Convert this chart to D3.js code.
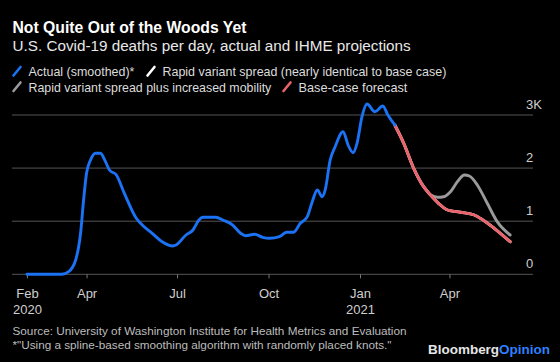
<!DOCTYPE html>
<html>
<head>
<meta charset="utf-8">
<script src="https://cdn.jsdelivr.net/npm/d3@7"></script>
<style>
  html, body { margin: 0; padding: 0; background: #000; }
  svg { display: block; }
  text { font-family: "Liberation Sans", Arial, Helvetica, sans-serif; }
</style>
</head>
<body>
<svg id="chart" width="560" height="362"></svg>
<script>
// ---------------- DATA ----------------
const actualDates = ["2020-02-01","2020-03-07","2020-03-14","2020-03-21","2020-03-26","2020-03-29","2020-04-01","2020-04-05","2020-04-10","2020-04-15","2020-04-20","2020-04-24","2020-05-01","2020-05-09","2020-05-21","2020-05-27","2020-06-06","2020-06-16","2020-06-27","2020-06-30","2020-07-10","2020-07-17","2020-07-23","2020-07-27","2020-08-09","2020-08-16","2020-08-26","2020-09-03","2020-09-08","2020-09-17","2020-09-25","2020-10-02","2020-10-12","2020-10-19","2020-10-26","2020-11-02","2020-11-09","2020-11-14","2020-11-19","2020-11-24","2020-11-27","2020-12-02","2020-12-07","2020-12-15","2020-12-20","2020-12-25","2020-12-29","2021-01-03","2021-01-08","2021-01-16","2021-01-24","2021-01-29","2021-02-05"];
const actualValues = [0,0,49,269,778,1399,1908,2153,2279,2279,2121,1964,1870,1525,1055,928,772,614,533,552,740,834,1023,1073,1073,1023,928,772,727,753,697,678,708,791,791,960,1085,1367,1588,1461,1588,2153,2403,2686,2435,2290,2467,2968,3207,3062,3169,3000,2812];

const baseDates = ["2021-02-05","2021-02-14","2021-02-24","2021-03-06","2021-03-13","2021-03-21","2021-03-30","2021-04-12","2021-04-26","2021-05-02","2021-05-16","2021-06-01"];
const baseValues = [2812,2467,1996,1650,1493,1337,1211,1168,1117,1055,866,614];

const rapidDates = ["2021-02-05","2021-02-14","2021-02-24","2021-03-06","2021-03-13","2021-03-21","2021-03-30","2021-04-12","2021-04-26","2021-05-02","2021-05-16","2021-06-01"];
const rapidValues = [2812,2467,1996,1650,1493,1337,1211,1168,1117,1055,866,614];

const mobilityDates = ["2021-03-13","2021-03-20","2021-03-26","2021-04-02","2021-04-09","2021-04-16","2021-04-21","2021-04-29","2021-05-09","2021-05-19","2021-06-01"];
const mobilityValues = [1493,1450,1461,1556,1744,1870,1851,1682,1337,991,740];

const yTicks = [0, 1000, 2000, 3000];
const yTickLabels = ["0", "1", "2", "3K"];
const xTickDates = ["2020-02-01","2020-04-01","2020-07-01","2020-10-01","2021-01-01","2021-04-01"];
const xTickLabels = ["Feb","Apr","Jul","Oct","Jan","Apr"];
const xTickYears = ["2020","","","","2021",""];

const legendLabels = ["Actual (smoothed)*", "Rapid variant spread (nearly identical to base case)", "Rapid variant spread plus increased mobility", "Base-case forecast"];

// ---------------- STYLE ----------------
const C = { blue: "#1b72f5", white: "#ffffff", gray: "#9a9a9a", red: "#ea636b", grid: "#555555" };

const parse = d3.timeParse("%Y-%m-%d");
const zip = (ds, vs) => ds.map((d, i) => ({ date: parse(d), value: vs[i] }));
const actual = zip(actualDates, actualValues);
const base = zip(baseDates, baseValues);
const rapid = zip(rapidDates, rapidValues);
const mobility = zip(mobilityDates, mobilityValues);

const svg = d3.select("#chart");
svg.append("rect").attr("width", 560).attr("height", 362).attr("fill", "#000");

function fit(sel, w) {
  const l = sel.node().getComputedTextLength();
  const fs = parseFloat(sel.attr("font-size"));
  sel.attr("font-size", (fs * w / l).toFixed(2));
  return sel;
}

// Title & subtitle
fit(svg.append("text").attr("x", 12.5).attr("y", 33).attr("font-size", 17)
  .attr("font-weight", "bold").attr("fill", "#fff").text("Not Quite Out of the Woods Yet"), 234);
fit(svg.append("text").attr("x", 12.5).attr("y", 51).attr("font-size", 15)
  .attr("fill", "#e8e8e8").text("U.S. Covid-19 deaths per day, actual and IHME projections"), 398);

// Legend
const legendItems = [
  { label: legendLabels[0], color: C.blue, x: 13, y: 76, w: 106 },
  { label: legendLabels[1], color: C.white, x: 147, y: 76, w: 284 },
  { label: legendLabels[2], color: C.gray, x: 13, y: 91.5, w: 243 },
  { label: legendLabels[3], color: C.red, x: 283, y: 91.5, w: 109 }
];
legendItems.forEach(it => {
  svg.append("line").attr("x1", it.x + 0.5).attr("y1", it.y - 0.5)
    .attr("x2", it.x + 7.5).attr("y2", it.y - 9)
    .attr("stroke", it.color).attr("stroke-width", 2.6).attr("stroke-linecap", "round");
  fit(svg.append("text").attr("x", it.x + 15.5).attr("y", it.y).attr("font-size", 13)
    .attr("fill", "#dddddd").text(it.label), it.w);
});

// Scales
const x = d3.scaleTime().domain([parse("2020-01-17"), parse("2021-06-24")]).range([12, 533]);
const y = d3.scaleLinear().domain([0, 3000]).range([274.3, 115]);

// Gridlines
svg.append("g").selectAll("line").data(yTicks).join("line")
  .attr("x1", 12).attr("x2", 533)
  .attr("y1", d => y(d)).attr("y2", d => y(d))
  .attr("stroke", C.grid).attr("stroke-width", 1);

// Y labels
svg.append("g").selectAll("text").data(yTicks).join("text")
  .attr("x", 526).attr("y", d => y(d) - 6.5)
  .attr("font-size", 13).attr("fill", "#cfcfcf")
  .text((d, i) => yTickLabels[i]);

// X axis
const xAxis = d3.axisBottom(x)
  .tickValues(xTickDates.map(parse))
  .tickSize(4)
  .tickFormat((d, i) => xTickLabels[i]);
const gx = svg.append("g").attr("transform", `translate(0,${y(0)})`).call(xAxis);
gx.select(".domain").remove();
gx.selectAll(".tick line").attr("stroke", "#777");
gx.selectAll(".tick text").attr("font-size", 13).attr("fill", "#cfcfcf")
  .attr("font-family", "'Liberation Sans', Arial, sans-serif")
  .attr("dy", null).attr("y", 23.5);
gx.selectAll(".tick").each(function(d, i) {
  if (xTickYears[i]) {
    d3.select(this).append("text").attr("y", 39.5).attr("text-anchor", "middle")
      .attr("font-size", 13).attr("fill", "#cfcfcf")
      .attr("font-family", "'Liberation Sans', Arial, sans-serif")
      .text(xTickYears[i]);
  }
});

// Lines
const line = d3.line().x(d => x(d.date)).y(d => y(d.value)).curve(d3.curveMonotoneX);
const drawLine = (data, color) => svg.append("path").datum(data)
  .attr("d", line).attr("fill", "none").attr("stroke", color)
  .attr("stroke-width", 2.9).attr("stroke-linejoin", "round").attr("stroke-linecap", "round");
drawLine(mobility, C.gray);
drawLine(rapid, C.white);
drawLine(base, C.red);
drawLine(actual, C.blue);

// Footer
fit(svg.append("text").attr("x", 12.5).attr("y", 335).attr("font-size", 11.5)
  .attr("fill", "#bdbdbd").text("Source: University of Washington Institute for Health Metrics and Evaluation"), 394);
fit(svg.append("text").attr("x", 12.5).attr("y", 348.5).attr("font-size", 11.5)
  .attr("fill", "#bdbdbd").text("*\"Using a spline-based smoothing algorithm with randomly placed knots.\""), 379);

const logo = svg.append("text").attr("x", 428).attr("y", 353.5).attr("font-size", 14)
  .attr("font-weight", "bold").attr("fill", "#e6e6e6");
logo.append("tspan").text("Bloomberg");
logo.append("tspan").attr("fill", "#2f80ff").text("Opinion");
fit(logo, 122);
</script>
</body>
</html>
